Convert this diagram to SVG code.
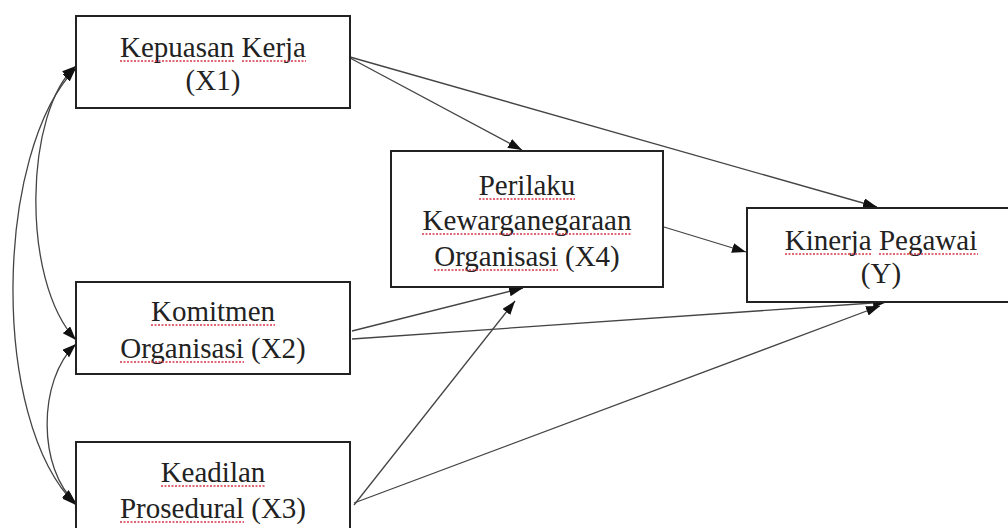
<svg xmlns="http://www.w3.org/2000/svg" width="1008" height="528" viewBox="0 0 1008 528">
<style>
.box{fill:#fff;stroke:#222;stroke-width:2}
.t{font-family:"Liberation Serif","Times New Roman",serif;font-size:29px;fill:#222;text-anchor:middle}
.sq{stroke:#d8354a;stroke-width:1.3;stroke-dasharray:2 1.5;fill:none}
.c{fill:none;stroke:#444;stroke-width:1.3}
</style>
<defs>
<marker id="ah" markerUnits="userSpaceOnUse" markerWidth="15" markerHeight="11" refX="14" refY="5" orient="auto-start-reverse">
<path d="M0,0 L14,5 L0,10 z" fill="#111"/>
</marker>
</defs>
<rect width="1008" height="528" fill="#fff"/>
<g id="connectors">
<path class="c" d="M350,58 L522,150" marker-end="url(#ah)"/>
<path class="c" d="M350,57 L877,207" marker-end="url(#ah)"/>
<path class="c" d="M664,227 L746,252" marker-end="url(#ah)"/>
<path class="c" d="M352,331 L523,288" marker-end="url(#ah)"/>
<path class="c" d="M352,339 L887,302" marker-end="url(#ah)"/>
<path class="c" d="M354,505 L515,301" marker-end="url(#ah)"/>
<path class="c" d="M354,503 L880,306" marker-end="url(#ah)"/>
<path class="c" d="M76,66 C25,110 20,280 76,340" marker-start="url(#ah)" marker-end="url(#ah)"/>
<path class="c" d="M76,68 C-5,150 -11,420 76,505" marker-start="url(#ah)" marker-end="url(#ah)"/>
<path class="c" d="M76,344 C37,380 38,470 76,503" marker-start="url(#ah)" marker-end="url(#ah)"/>
</g>
<g id="X1">
<rect class="box" x="76" y="16" width="274" height="92"/>
<text class="t" x="213" y="57">Kepuasan Kerja</text>
<text class="t" x="213" y="90">(X1)</text>
<path class="sq" d="M120,61 H234 M242,61 H306"/>
</g>
<g id="X2">
<rect class="box" x="76" y="282" width="274" height="92"/>
<text class="t" x="213" y="321">Komitmen</text>
<text class="t" x="213" y="358">Organisasi (X2)</text>
<path class="sq" d="M151,325 H275 M120,362 H244"/>
</g>
<g id="X3">
<rect class="box" x="76" y="442" width="274" height="100"/>
<text class="t" x="213" y="482">Keadilan</text>
<text class="t" x="213" y="518">Prosedural (X3)</text>
<path class="sq" d="M161,486 H265 M120,522 H244"/>
</g>
<g id="X4">
<rect class="box" x="391" y="151" width="272" height="136"/>
<text class="t" x="527" y="195">Perilaku</text>
<text class="t" x="527" y="230">Kewarganegaraan</text>
<text class="t" x="527" y="266">Organisasi (X4)</text>
<path class="sq" d="M479,199 H575 M422,234 H632 M434,270 H558"/>
</g>
<g id="Y">
<rect class="box" x="747" y="208" width="270" height="94"/>
<text class="t" x="881" y="250">Kinerja Pegawai</text>
<text class="t" x="881" y="283">(Y)</text>
<path class="sq" d="M785,254 H872 M879,254 H978"/>
</g>
</svg>
